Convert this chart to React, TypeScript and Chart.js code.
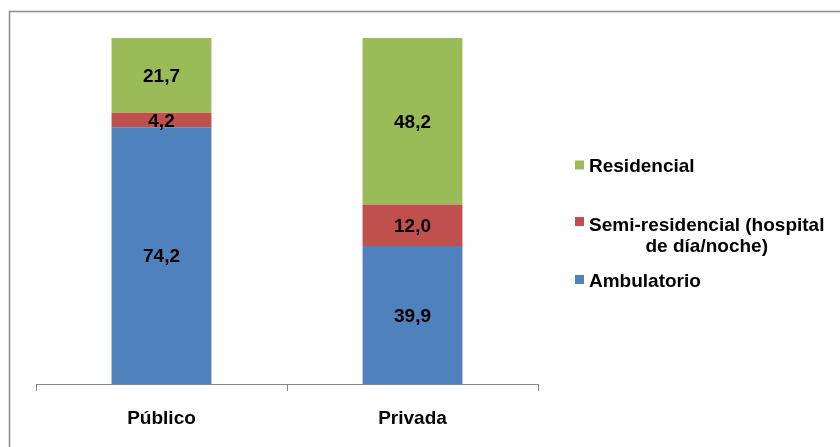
import React, { useEffect, useRef } from "react";
import { Chart, registerables } from "chart.js";

Chart.register(...registerables);

const categories = ["Público", "Privada"];
const ambulatorio = [74.2, 39.9];
const semiResidencial = [4.2, 12.0];
const residencial = [21.7, 48.2];
const seriesLabels = ["Ambulatorio", "Semi-residencial (hospital de día/noche)", "Residencial"];
const legendLines = [["Ambulatorio"], ["Semi-residencial (hospital", "de día/noche)"], ["Residencial"]];
const seriesColors = ["#4F81BD", "#C0504D", "#9BBB59"];

const FONT = "'Liberation Sans', Arial, sans-serif";

const fmt = (v: number) => v.toFixed(1).replace(".", ",");

const framePlugin = {
  id: "frame",
  beforeDraw(chart: any) {
    const ctx = chart.ctx;
    ctx.save();
    ctx.strokeStyle = "#8c8c8c";
    ctx.lineWidth = 1.5;
    ctx.beginPath();
    ctx.moveTo(9.5, 447);
    ctx.lineTo(9.5, 11.5);
    ctx.lineTo(840, 11.5);
    ctx.stroke();
    ctx.restore();
  },
};

const labelsPlugin = {
  id: "valueLabels",
  afterDatasetsDraw(chart: any) {
    const ctx = chart.ctx;
    ctx.save();
    ctx.font = `bold 19px ${FONT}`;
    ctx.fillStyle = "#000";
    ctx.textAlign = "center";
    ctx.textBaseline = "alphabetic";
    chart.data.datasets.forEach((ds: any, di: number) => {
      const meta = chart.getDatasetMeta(di);
      meta.data.forEach((el: any, i: number) => {
        const yc = (el.y + el.base) / 2;
        ctx.fillText(fmt(ds.data[i]), el.x, yc + 6.8);
      });
    });
    ctx.restore();
  },
};

// legend layout (order: reversed, top to bottom)
const legendPlugin = {
  id: "customLegend",
  afterDraw(chart: any) {
    const ctx = chart.ctx;
    const x0 = 575;
    const tx = 589;
    const items = [
      { ds: 2, sq: 160.5, base: [172.3] },
      { ds: 1, sq: 217, base: [231, 252] },
      { ds: 0, sq: 275, base: [286.7] },
    ];
    ctx.save();
    ctx.font = `bold 19px ${FONT}`;
    ctx.fillStyle = "#000";
    ctx.textBaseline = "alphabetic";
    items.forEach((it) => {
      const ds = chart.data.datasets[it.ds];
      ctx.fillStyle = ds.backgroundColor;
      ctx.fillRect(x0, it.sq, 9, 9);
      ctx.fillStyle = "#000";
      const lines = legendLines[it.ds];
      ctx.textAlign = "left";
      ctx.fillText(lines[0], tx, it.base[0]);
      if (lines.length > 1) {
        const w = ctx.measureText(lines[0]).width;
        ctx.textAlign = "center";
        for (let k = 1; k < lines.length; k++) {
          ctx.fillText(lines[k], tx + w / 2, it.base[k]);
        }
      }
    });
    ctx.restore();
  },
};

export default function App() {
  const ref = useRef<HTMLCanvasElement | null>(null);
  useEffect(() => {
    document.body.style.margin = "0";
    const canvas = ref.current;
    if (!canvas) return;
    const seriesData = [ambulatorio, semiResidencial, residencial];
    const chart = new Chart(canvas, {
      type: "bar",
      data: {
        labels: categories,
        datasets: seriesData.map((d, i) => ({
          label: seriesLabels[i],
          data: d,
          backgroundColor: seriesColors[i],
          borderWidth: 0,
          categoryPercentage: 1,
          barPercentage: 0.398,
        })),
      },
      options: {
        responsive: false,
        animation: false,
        devicePixelRatio: 1,
        layout: { padding: { top: 38, left: 36, right: 302, bottom: 0 } },
        plugins: {
          legend: { display: false },
          tooltip: { enabled: false },
          title: { display: false },
        },
        scales: {
          x: {
            stacked: true,
            offset: true,
            grid: {
              offset: true,
              drawOnChartArea: false,
              drawTicks: true,
              tickLength: 7,
              color: "#868686",
              lineWidth: 1,
            },
            border: { display: true, color: "#868686", width: 1 },
            ticks: {
              font: { family: FONT, size: 19, weight: "bold" },
              color: "#000",
              padding: 16,
              maxRotation: 0,
            },
            afterFit: (scale: any) => {
              scale.height = 63;
            },
          },
          y: {
            stacked: true,
            display: false,
            min: 0,
            max: 100,
          },
        },
      },
      plugins: [framePlugin, labelsPlugin, legendPlugin],
    } as any);
    return () => chart.destroy();
  }, []);
  return (
    <div style={{ width: 840, height: 447, background: "#fff" }}>
      <canvas ref={ref} width={840} height={447} style={{ display: "block" }} />
    </div>
  );
}
